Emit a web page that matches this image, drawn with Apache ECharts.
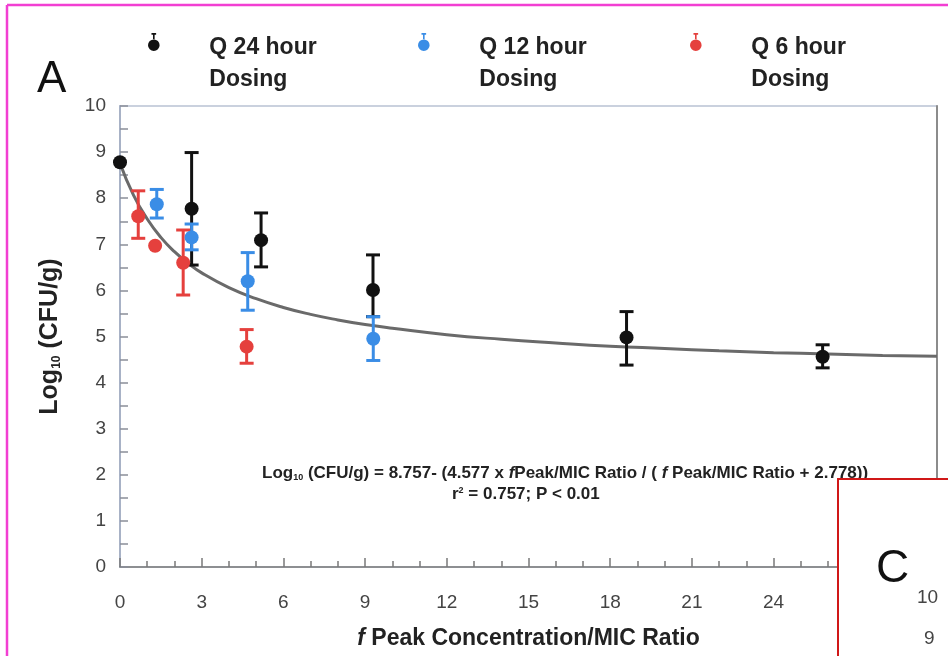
<!DOCTYPE html>
<html>
<head>
<meta charset="utf-8">
<script src="https://cdn.jsdelivr.net/npm/echarts@6/dist/echarts.min.js"></script>
<style>
  html, body { margin: 0; padding: 0; background: #fff; }
  #main { width: 948px; height: 656px; }
</style>
</head>
<body>
<div id="main"></div>
<script>
  // data
  var q24X  = [0, 2.63, 5.18, 9.29, 18.6, 25.8];
  var q24Y  = [8.78, 7.77, 7.09, 6.01, 4.98, 4.56];
  var q24Hi = [null, 8.99, 7.68, 6.77, 5.54, 4.82];
  var q24Lo = [null, 6.55, 6.51, 5.43, 4.38, 4.32];

  var q12X  = [1.35, 2.63, 4.69, 9.30];
  var q12Y  = [7.87, 7.15, 6.20, 4.95];
  var q12Hi = [8.19, 7.44, 6.82, 5.43];
  var q12Lo = [7.57, 6.88, 5.57, 4.48];

  var q6X  = [0.67, 1.29, 2.32, 4.65];
  var q6Y  = [7.61, 6.97, 6.60, 4.78];
  var q6Hi = [8.16, null, 7.31, 5.15];
  var q6Lo = [7.13, null, 5.90, 4.42];

  // fitted curve
  var fitX = [0, 0.5, 1, 1.5, 2, 2.5, 3, 4, 5, 6, 7, 8, 9, 10, 12, 14, 16, 18, 20, 22, 24, 26, 28, 30];
  var fitY = [8.76, 8.06, 7.55, 7.15, 6.84, 6.59, 6.38, 6.06, 5.82, 5.63, 5.48, 5.36, 5.26, 5.18,
              5.04, 4.94, 4.86, 4.79, 4.74, 4.69, 4.65, 4.62, 4.59, 4.57];

  var xTicks = [0, 3, 6, 9, 12, 15, 18, 21, 24];

  var BLACK = '#111111', BLUE = '#3a8de6', RED = '#e5403d';

  function zip(a, b) {
    return a.map(function (v, i) { return [v, b[i]]; });
  }
  function bars(x, lo, hi) {
    var out = [];
    for (var i = 0; i < x.length; i++) {
      if (lo[i] != null) out.push([x[i], lo[i], hi[i]]);
    }
    return out;
  }

  function errorBar(color) {
    return function (params, api) {
      var x = api.value(0);
      var pLo = api.coord([x, api.value(1)]);
      var pHi = api.coord([x, api.value(2)]);
      var w = 7;
      var st = { stroke: color, lineWidth: 3 };
      return {
        type: 'group',
        children: [
          { type: 'line', shape: { x1: pLo[0], y1: pLo[1], x2: pHi[0], y2: pHi[1] }, style: st },
          { type: 'line', shape: { x1: pHi[0] - w, y1: pHi[1], x2: pHi[0] + w, y2: pHi[1] }, style: st },
          { type: 'line', shape: { x1: pLo[0] - w, y1: pLo[1], x2: pLo[0] + w, y2: pLo[1] }, style: st }
        ]
      };
    };
  }

  var sans = "'Liberation Sans', Arial, sans-serif";
  // dot with a little error-bar cap on top, as in the legend of the figure
  var legendIcon = 'path://M1,11a5,5 0 1,0 10,0a5,5 0 1,0 -10,0Z M5.3,1.5h1.4v5h-1.4Z M4,0.5h4v1.5h-4Z';

  function legendFor(name, left) {
    return {
      data: [name],
      left: left,
      top: 33,
      padding: 0,
      itemWidth: 13,
      itemHeight: 18,
      icon: legendIcon,
      formatter: function (n) { return '{t|' + n + '}\n{t|Dosing}'; },
      textStyle: {
        padding: [44, 0, 0, 44],
        rich: {
          t: { fontFamily: sans, fontWeight: 'bold', fontSize: 23, lineHeight: 32, color: '#222' }
        }
      }
    };
  }

  var chart = echarts.init(document.getElementById('main'));
  chart.setOption({
    animation: false,
    backgroundColor: '#fff',
    grid: {
      left: 120, right: 11, top: 106, bottom: 89,
      show: true, borderColor: '#b9c2d4', borderWidth: 1.5, backgroundColor: 'transparent'
    },
    legend: [
      legendFor('Q 24 hour', 148),
      legendFor('Q 12 hour', 418),
      legendFor('Q 6 hour', 690)
    ],
    xAxis: {
      type: 'value', min: 0, max: 30, interval: 3,
      name: '{i|f}{b| Peak Concentration/MIC Ratio}',
      nameLocation: 'middle', nameGap: 60,
      nameTextStyle: {
        rich: {
          i: { fontFamily: sans, fontWeight: 'bold', fontStyle: 'italic', fontSize: 23, color: '#222' },
          b: { fontFamily: sans, fontWeight: 'bold', fontSize: 23, color: '#222' }
        }
      },
      axisLine: { lineStyle: { color: '#7a7a7a', width: 1.5 } },
      axisTick: { inside: true, length: 9, lineStyle: { color: '#7a7a7a', width: 1.5 } },
      minorTick: { show: true, splitNumber: 3, length: 6, lineStyle: { color: '#7a7a7a', width: 1.5 } },
      splitLine: { show: false },
      axisLabel: {
        margin: 26, fontSize: 19, color: '#444', fontFamily: sans,
        formatter: function (v) { return xTicks.indexOf(v) >= 0 ? String(v) : ''; }
      }
    },
    yAxis: [{
      type: 'value', min: 0, max: 10, interval: 1,
      name: '{b|Log}{s|10}{b| (CFU/g)}',
      nameLocation: 'middle', nameGap: 57, nameRotate: 90,
      nameTextStyle: {
        rich: {
          b: { fontFamily: sans, fontWeight: 'bold', fontSize: 25, color: '#222' },
          s: { fontFamily: sans, fontWeight: 'bold', fontSize: 12, color: '#222', verticalAlign: 'bottom', padding: [14, 0, 0, 0] }
        }
      },
      axisLine: { lineStyle: { color: '#a8b2c6', width: 2 } },
      axisTick: { inside: true, length: 8, lineStyle: { color: '#8a8f99', width: 1.5 } },
      minorTick: { show: true, splitNumber: 2, length: 8, lineStyle: { color: '#8a8f99', width: 1.5 } },
      splitLine: { show: false },
      axisLabel: { margin: 14, fontSize: 19, color: '#444', fontFamily: sans }
    }, {
      type: 'value', min: 0, max: 10, position: 'right',
      axisLine: { show: true, lineStyle: { color: '#8c8c8c', width: 2 } },
      axisTick: { show: false }, axisLabel: { show: false }, splitLine: { show: false }
    }],
    graphic: [
      { type: 'line', shape: { x1: 7, y1: 5, x2: 7, y2: 700 }, style: { stroke: '#f23fd2', lineWidth: 2.5 }, z: 100 },
      { type: 'line', shape: { x1: 7, y1: 5, x2: 960, y2: 5 }, style: { stroke: '#f23fd2', lineWidth: 2.5 }, z: 100 },
      { type: 'text', left: 37, top: 58, style: { text: 'A', fontFamily: sans, fontSize: 44, fill: '#111' }, z: 100 },
      {
        type: 'text', left: 262, top: 465, z: 50,
        style: {
          text: '{b|Log}{s|10}{b| (CFU/g) = 8.757- (4.577 x }{i|f}{b|Peak/MIC Ratio / ( }{i|f}{b| Peak/MIC Ratio + 2.778))}',
          rich: {
            b: { fontFamily: sans, fontWeight: 'bold', fontSize: 17, fill: '#222' },
            i: { fontFamily: sans, fontWeight: 'bold', fontStyle: 'italic', fontSize: 17, fill: '#222' },
            s: { fontFamily: sans, fontWeight: 'bold', fontSize: 9, fill: '#222', padding: [9, 0, 0, 0] }
          }
        }
      },
      {
        type: 'text', left: 452, top: 486, z: 50,
        style: {
          text: '{b|r}{s|2}{b| = 0.757; P < 0.01}',
          rich: {
            b: { fontFamily: sans, fontWeight: 'bold', fontSize: 17, fill: '#222' },
            s: { fontFamily: sans, fontWeight: 'bold', fontSize: 9, fill: '#222', padding: [0, 0, 8, 0] }
          }
        }
      },
      // panel C peeking in from the bottom right
      { type: 'rect', shape: { x: 838, y: 479, width: 130, height: 200 }, style: { fill: '#fff', stroke: '#d01818', lineWidth: 2 }, z: 200 },
      { type: 'text', left: 876, top: 546, style: { text: 'C', fontFamily: sans, fontSize: 46, fill: '#111' }, z: 201 },
      { type: 'text', left: 917, top: 588, style: { text: '10', fontFamily: sans, fontSize: 19, fill: '#444' }, z: 201 },
      { type: 'text', left: 924, top: 629, style: { text: '9', fontFamily: sans, fontSize: 19, fill: '#444' }, z: 201 }
    ],
    series: [
      {
        name: 'fit', type: 'line', smooth: true, symbol: 'none',
        data: zip(fitX, fitY), z: 2,
        lineStyle: { color: '#6a6a6a', width: 3 }
      },
      { name: 'e24', type: 'custom', renderItem: errorBar(BLACK), encode: { x: 0, y: [1, 2] }, data: bars(q24X, q24Lo, q24Hi), z: 3 },
      { name: 'e12', type: 'custom', renderItem: errorBar(BLUE), encode: { x: 0, y: [1, 2] }, data: bars(q12X, q12Lo, q12Hi), z: 3 },
      { name: 'e6', type: 'custom', renderItem: errorBar(RED), encode: { x: 0, y: [1, 2] }, data: bars(q6X, q6Lo, q6Hi), z: 3 },
      { name: 'Q 24 hour', type: 'scatter', symbolSize: 14, itemStyle: { color: BLACK, opacity: 1 }, data: zip(q24X, q24Y), z: 4, clip: false },
      { name: 'Q 12 hour', type: 'scatter', symbolSize: 14, itemStyle: { color: BLUE, opacity: 1 }, data: zip(q12X, q12Y), z: 4 },
      { name: 'Q 6 hour', type: 'scatter', symbolSize: 14, itemStyle: { color: RED, opacity: 1 }, data: zip(q6X, q6Y), z: 4 }
    ]
  });
</script>
</body>
</html>
